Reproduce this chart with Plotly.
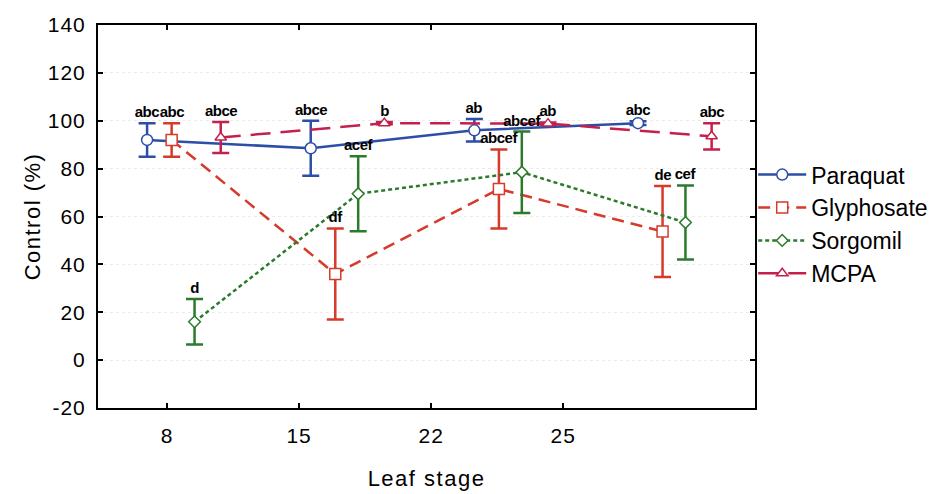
import plotly.graph_objects as go

# Leaf stage at application (categories)
leaf_stages = ["8", "15", "22", "25"]

# Weed control (%) means and error half-widths per herbicide
paraquat = [92, 88.5, 96, 99]
paraquat_err = [7, 11.5, 4.7, 0.8]
paraquat_txt = ["abc", "abce", "ab", "abc"]

glyphosate = [92, 36, 71.5, 53.7]
glyphosate_err = [7, 19, 16.5, 19]
glyphosate_txt = ["abc", "df", "abcef", "de"]

sorgomil = [16, 69.5, 78.5, 57.5]
sorgomil_err = [9.5, 15.7, 17, 15.5]
sorgomil_txt = ["d", "acef", "abcef", "cef"]

mcpa = [93, 99, 98.8, 93.5]
mcpa_err = [6.5, 0.5, 0.5, 5.5]
mcpa_txt = ["abce", "b", "ab", "abc"]

# y-axis tick labels (plain hyphen for negatives)
y_ticks = [-20, 0, 20, 40, 60, 80, 100, 120, 140]

series = [
    ("Paraquat", paraquat, paraquat_err, paraquat_txt, "#2d4ea6", "solid", "circle", 11, 0.00),
    ("Glyphosate", glyphosate, glyphosate_err, glyphosate_txt, "#d63a2b", "12px,7px", "square", 11, 0.15),
    ("Sorgomil", sorgomil, sorgomil_err, sorgomil_txt, "#2c7a2c", "4px,3px", "diamond", 9, 0.29),
    ("MCPA", mcpa, mcpa_err, mcpa_txt, "#c4204c", "20px,10px", "triangle-up", 10, 0.45),
]

FONT = "Liberation Sans, Arial, sans-serif"

fig = go.Figure()
annotations = []
for name, vals, errs, txt, color, dash, sym, msize, off in series:
    xs = [i + off for i in range(len(leaf_stages))]
    fig.add_trace(go.Scatter(
        x=xs, y=vals, name=name, mode="lines+markers",
        line=dict(color=color, width=2.5, dash=dash),
        marker=dict(symbol=sym, size=msize, color="white",
                    line=dict(color=color, width=1.5)),
        error_y=dict(type="data", array=errs, visible=True,
                     color=color, thickness=2.5, width=8.5),
    ))
    for x, v, e, t in zip(xs, vals, errs, txt):
        annotations.append(dict(
            x=x, y=v + e, text=t, showarrow=False, xref="x", yref="y",
            yanchor="bottom", yshift=1,
            font=dict(family=FONT, size=15, color="black", weight="bold"),
        ))

tick_pos = [0.122 + 0.807 * i for i in range(len(leaf_stages))]

fig.update_layout(
    width=938, height=494,
    margin=dict(l=98, r=183, t=25, b=86, autoexpand=False),
    paper_bgcolor="white", plot_bgcolor="white",
    font=dict(family=FONT, color="black"),
    annotations=annotations,
    showlegend=True,
    legend=dict(xref="container", x=0.803, xanchor="left",
                y=0.48, yanchor="middle",
                font=dict(family=FONT, size=23, color="black"),
                bgcolor="rgba(0,0,0,0)", tracegroupgap=0,
                itemwidth=48),
)
fig.update_xaxes(
    range=[-0.30, 3.715], tickvals=tick_pos, ticktext=leaf_stages,
    showline=True, linecolor="black", linewidth=2, mirror="ticks",
    ticks="inside", ticklen=5, tickwidth=2, tickcolor="black",
    showgrid=False, zeroline=False, automargin=False,
    tickfont=dict(family=FONT, size=21), ticklabelstandoff=8,
    title=dict(text="Leaf stage", font=dict(family=FONT, size=22), standoff=24),
)
fig.update_yaxes(
    range=[-20, 140], tickvals=y_ticks, ticktext=[str(v) for v in y_ticks],
    showline=True, linecolor="black", linewidth=2, mirror="ticks",
    ticks="inside", ticklen=5, tickwidth=2, tickcolor="black",
    showgrid=True, gridcolor="#ebebeb", griddash="dot", gridwidth=1,
    zeroline=False, automargin=False,
    tickfont=dict(family=FONT, size=21), ticklabelstandoff=6,
    title=dict(text="Control (%)", font=dict(family=FONT, size=22), standoff=4),
)

# Slightly wider text tracking for titles and tick labels
tracking_css = (
    "var s=document.createElement('style');"
    "s.textContent='.xtitle,.ytitle{letter-spacing:1.5px}"
    ".xtick text,.ytick text{letter-spacing:1px}"
    ".annotation-text{letter-spacing:-0.5px}';"
    "document.head.appendChild(s);"
)

fig.write_html("out.html", post_script=tracking_css)
